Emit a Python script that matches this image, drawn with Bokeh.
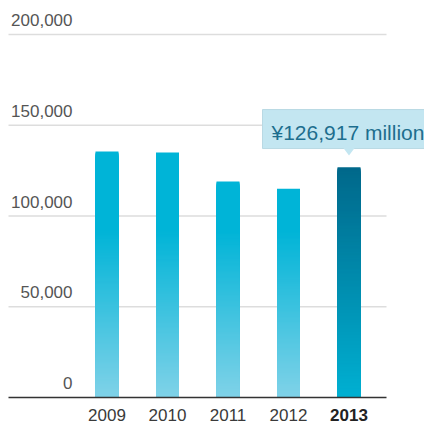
import numpy as np
from bokeh.plotting import figure
from bokeh.models import Range1d
from bokeh.core.properties import value
from bokeh.embed import file_html
from bokeh.resources import INLINE

# ---- data ----
years = ["2009", "2010", "2011", "2012", "2013"]
sales = [135500, 135000, 119000, 115000, 126917]
y_ticks = [0, 50000, 100000, 150000, 200000]
y_tick_labels = ["0", "50,000", "100,000", "150,000", "200,000"]
callout_text = "¥126,917 million"
highlight_index = 4

# ---- layout constants (pixels) ----
W, H = 424, 425
PX_PER_CAT = 60.5
PX_PER_VAL = 363 / 200000
FIRST_CENTER_PX = 106.5
ZERO_PX_FROM_TOP = 397
GRID_LEFT_PX = 8
GRID_RIGHT_PX = 386
LABEL_SIZE = "17px"
BASE_FIX_LBL = 7.3   # correction for alphabetic baseline placement
BASE_FIX_CALL = 8.5

x_start = -FIRST_CENTER_PX / PX_PER_CAT
x_end = x_start + W / PX_PER_CAT
y_end = ZERO_PX_FROM_TOP / PX_PER_VAL
y_start = y_end - H / PX_PER_VAL


def dx(px):
    return px / PX_PER_CAT


def dy(px):
    return px / PX_PER_VAL


FONT = value("Liberation Sans")

p = figure(width=W, height=H, x_range=Range1d(x_start, x_end), y_range=Range1d(y_start, y_end),
           output_backend="svg", toolbar_location=None, min_border=0,
           x_axis_location=None, y_axis_location=None)
p.grid.visible = False
p.outline_line_color = None
p.background_fill_color = "white"
p.border_fill_color = "white"

gx0 = x_start + dx(GRID_LEFT_PX)
gx1 = x_start + dx(GRID_RIGHT_PX)

# gridlines
grid_vals = y_ticks[1:]
p.segment(x0=[gx0] * len(grid_vals), x1=[gx1] * len(grid_vals),
          y0=grid_vals, y1=grid_vals, line_color="#dddddd", line_width=1.5)

# y labels
p.text(x=[x_start + dx(72)] * len(y_ticks), y=[t + dy(7 + BASE_FIX_LBL) for t in y_ticks],
       text=y_tick_labels, text_align="right", text_baseline="alphabetic", text_font=FONT,
       text_font_size=LABEL_SIZE, text_color="#555555")


def mix(c0, c1, t):
    t = max(0.0, min(1.0, t))
    r = [int(round(a + (b - a) * t)) for a, b in zip(c0, c1)]
    return "#%02x%02x%02x" % tuple(r)


LIGHT_BOTTOM = (128, 210, 232)
LIGHT_TOP = (0, 180, 215)
DARK_BOTTOM = (0, 176, 210)
DARK_TOP = (0, 104, 138)
STEP = 600
BAR_W = dx(23)

xs, tops, cols = [], [], []
for i, v in enumerate(sales):
    his = np.arange(v, 0, -STEP)
    for hi in his:
        mid = hi - STEP / 2
        if i == highlight_index:
            c = mix(DARK_BOTTOM, DARK_TOP, mid / v)
        else:
            c = mix(LIGHT_BOTTOM, LIGHT_TOP, mid / 92000)
        xs.append(i)
        tops.append(float(hi))
        cols.append(c)

p.vbar(x=xs, top=tops, bottom=0, width=BAR_W, fill_color=cols, line_color=None)

# baseline
p.segment(x0=[gx0], x1=[gx1], y0=[0], y1=[0], line_color="#333333", line_width=1.3)

# x labels
for i, yr in enumerate(years):
    bold = i == highlight_index
    p.text(x=[i], y=[-dy(25 - BASE_FIX_LBL)], text=[yr], text_align="center",
           text_baseline="alphabetic", text_font=FONT, text_font_size=LABEL_SIZE,
           text_font_style="bold" if bold else "normal",
           text_color="#222222" if bold else "#3a3a3a")

# callout
hv = sales[highlight_index]
hx = highlight_index
box_bottom = hv + dy(18.6)
box_top = hv + dy(57.6)
p.quad(left=[hx + dx(-86.5)], right=[hx + dx(140)], bottom=[box_bottom], top=[box_top],
       fill_color="#c3e6f1", line_color="#b9d9e4", line_width=1)
p.patch(x=[hx - dx(6), hx + dx(6), hx], y=[box_bottom + dy(1), box_bottom + dy(1), hv + dy(11.6)],
        fill_color="#c3e6f1", line_color=None)
p.text(x=[hx + dx(-77.5)], y=[hv + dy(26.6 + BASE_FIX_CALL)], text=[callout_text], text_align="left",
       text_baseline="alphabetic", text_font=FONT, text_font_size="21px", text_color="#1d6e8e")

open("out.html", "w").write(file_html(p, INLINE))
